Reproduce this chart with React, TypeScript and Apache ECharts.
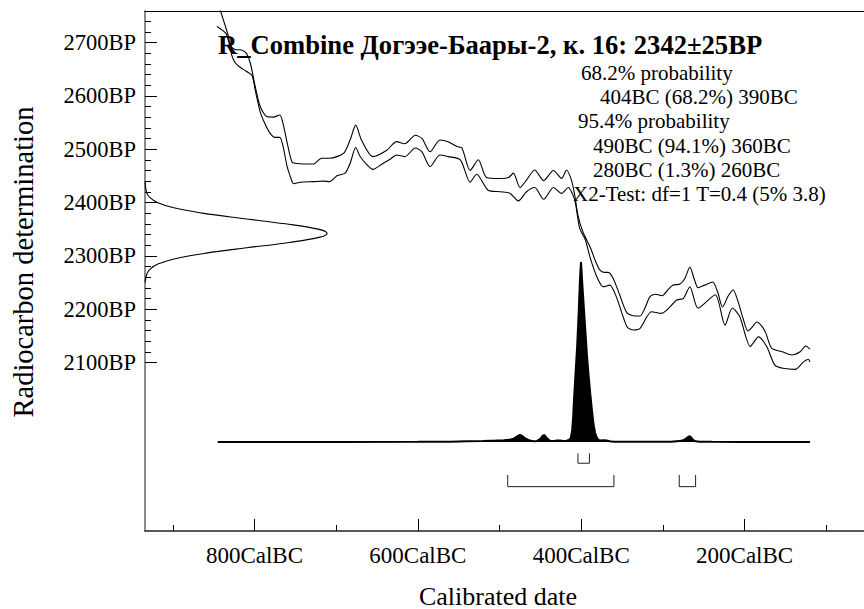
import React, { useEffect, useRef } from "react";
import * as echarts from "echarts";

// ---------- data ----------
const SAMPLE_NAME = "R_Combine Догээе-Баары-2, к. 16";
const BP_MEAN = 2342;
const BP_SD = 25;

const X_MIN_BC = 0;
const X_MAX_BC = 934;
const Y_MIN_BP = 1784;
const Y_MAX_BP = 2759;

const MAJOR_X_TICKS = [800, 600, 400, 200];
const MINOR_X_TICKS = [900, 700, 500, 300, 100];
const MAJOR_Y_TICKS = [2100, 2200, 2300, 2400, 2500, 2600, 2700];
const MINOR_Y_TICKS = [
  2120, 2140, 2160, 2180, 2220, 2240, 2260, 2280, 2320, 2340, 2360, 2380,
  2420, 2440, 2460, 2480, 2520, 2540, 2560, 2580, 2620, 2640, 2660, 2680,
  2720, 2740,
];

// calibration curve, upper and lower 1-sigma lines: [year BC, BP]
const CURVE_UPPER: [number, number][] = [
  [846, 2730], [835, 2717], [830, 2695], [824, 2687], [816, 2686], [810, 2680],
  [805, 2661], [799, 2617], [793, 2580], [785, 2561], [777, 2560], [769, 2564],
  [765, 2548], [759, 2505], [754, 2476], [748, 2473], [728, 2472], [718, 2483],
  [708, 2483], [691, 2492], [683, 2517], [676, 2545], [669, 2517], [655, 2486],
  [638, 2498], [626, 2514], [616, 2510], [603, 2526], [595, 2520], [585, 2495],
  [573, 2517], [563, 2514], [552, 2505], [546, 2502], [536, 2460], [526, 2480],
  [516, 2447], [499, 2445], [489, 2447], [483, 2455], [475, 2428], [467, 2442],
  [457, 2461], [446, 2441], [434, 2460], [424, 2445], [418, 2461], [412, 2442],
  [408, 2414], [404, 2376], [398, 2345], [389, 2316], [382, 2288], [377, 2273],
  [372, 2269], [367, 2269], [361, 2258], [353, 2227], [344, 2193], [334, 2187],
  [328, 2187], [322, 2202], [316, 2223], [309, 2228], [301, 2225], [294, 2236],
  [288, 2245], [279, 2247], [273, 2258], [267, 2279], [262, 2258], [257, 2240],
  [249, 2245], [239, 2251], [233, 2232], [227, 2204], [220, 2225], [214, 2236],
  [208, 2214], [202, 2183], [196, 2159], [191, 2166], [185, 2176], [179, 2168],
  [174, 2155], [167, 2127], [154, 2120], [142, 2114], [132, 2120], [125, 2131],
  [120, 2125],
];
const CURVE_LOWER: [number, number][] = [
  [846, 2780], [838, 2742], [832, 2712], [828, 2677], [824, 2663], [818, 2654],
  [810, 2646], [803, 2638], [799, 2610], [793, 2570], [787, 2547], [781, 2530],
  [775, 2522], [769, 2522], [765, 2505], [760, 2467], [756, 2448], [752, 2435],
  [744, 2438], [728, 2439], [716, 2440], [708, 2439], [699, 2450], [689, 2455],
  [683, 2473], [676, 2503], [671, 2487], [663, 2472], [655, 2462], [644, 2472],
  [634, 2481], [626, 2489], [616, 2486], [603, 2502], [595, 2495], [585, 2467],
  [573, 2489], [563, 2486], [548, 2480], [536, 2438], [528, 2453], [514, 2423],
  [499, 2420], [487, 2417], [477, 2403], [467, 2420], [457, 2428], [446, 2406],
  [434, 2428], [424, 2417], [416, 2428], [408, 2405], [402, 2352], [395, 2330],
  [389, 2296], [381, 2261], [373, 2242], [365, 2245], [357, 2223], [344, 2167],
  [336, 2161], [328, 2164], [314, 2195], [302, 2192], [283, 2217], [275, 2220],
  [267, 2242], [257, 2202], [236, 2227], [224, 2170], [215, 2202], [206, 2186],
  [193, 2130], [183, 2148], [173, 2130], [163, 2095], [153, 2089], [138, 2087],
  [128, 2101], [122, 2106], [120, 2101],
];

// radiocarbon measurement distribution (relative height) read along BP
const GAUSS_BP = [
  2440, 2420, 2410, 2400, 2390, 2380, 2370, 2360, 2350, 2342, 2335, 2325,
  2315, 2305, 2295, 2285, 2275, 2265, 2250,
];
const GAUSS_REL = [
  0.0005, 0.008, 0.025, 0.068, 0.158, 0.315, 0.534, 0.771, 0.95, 1.0, 0.961,
  0.793, 0.558, 0.335, 0.171, 0.074, 0.028, 0.009, 0.001,
];

// calibrated probability distribution (relative height) by year BC
const DIST_BC = [
  845, 700, 600, 560, 540, 520, 505, 495, 488, 482, 478, 475, 472, 468, 463,
  458, 454, 450, 447, 445, 442, 438, 434, 430, 426, 422, 418, 415, 413, 412,
  411, 410, 409, 407, 405, 403, 401.5, 400.3, 399, 397, 395, 393, 391, 389,
  387, 385, 383, 381, 379, 376, 372, 369, 365, 360, 350, 320, 290, 280, 274,
  271, 268, 266, 263, 260, 255, 240, 200, 160, 120,
];
const DIST_P = [
  0, 0, 0.001, 0.002, 0.004, 0.006, 0.008, 0.01, 0.012, 0.02, 0.033, 0.04,
  0.033, 0.018, 0.008, 0.004, 0.006, 0.018, 0.036, 0.038, 0.02, 0.006, 0.005,
  0.009, 0.008, 0.005, 0.007, 0.012, 0.02, 0.04, 0.07, 0.13, 0.22, 0.38, 0.53,
  0.73, 0.91, 1.0, 0.9, 0.76, 0.62, 0.48, 0.37, 0.27, 0.18, 0.1, 0.05, 0.025,
  0.012, 0.008, 0.01, 0.009, 0.004, 0.002, 0.001, 0.001, 0.002, 0.005, 0.012,
  0.022, 0.032, 0.028, 0.012, 0.004, 0.002, 0.001, 0, 0, 0,
];

// ranges: [from BC, to BC, percent]
const RANGES_68: [number, number, number][] = [[404, 390, 68.2]];
const RANGES_95: [number, number, number][] = [
  [490, 360, 94.1],
  [280, 260, 1.3],
];
const CHI_TEST = "X2-Test: df=1 T=0.4 (5% 3.8)";

// ---------- layout / style ----------
const CHART_W = 930;
const CHART_H = 609;
const GRID_LEFT = 145;
const GRID_TOP = 11;
const GRID_W = 763;
const GRID_H = 520;
const GAUSS_AXIS_MAX = 4.19;
const DIST_AXIS_MIN = -0.4944;
const DIST_AXIS_MAX = 2.3944;
const LEVEL_68 = [-0.0628, -0.118];
const LEVEL_95 = [-0.183, -0.248];
const FONT = "Liberation Serif";
const FONT_CSS = "'Liberation Serif', 'Times New Roman', serif";

function bracket(r: [number, number, number], lv: number[]) {
  return [
    [r[0], lv[0]],
    [r[0], lv[1]],
    [r[1], lv[1]],
    [r[1], lv[0]],
  ];
}

export default function App() {
  const ref = useRef<HTMLDivElement>(null);

  useEffect(() => {
    if (!ref.current) return;
    const chart = echarts.init(ref.current, undefined, { renderer: "svg" });

    const bracketSeries: any[] = [];
    RANGES_68.forEach((r) =>
      bracketSeries.push({
        type: "line",
        xAxisIndex: 0,
        yAxisIndex: 2,
        data: bracket(r, LEVEL_68),
        symbol: "none",
        lineStyle: { color: "#222", width: 1 },
        silent: true,
      })
    );
    RANGES_95.forEach((r) =>
      bracketSeries.push({
        type: "line",
        xAxisIndex: 0,
        yAxisIndex: 2,
        data: bracket(r, LEVEL_95),
        symbol: "none",
        lineStyle: { color: "#222", width: 1 },
        silent: true,
      })
    );

    const infoLines = [
      { text: "68.2% probability", x: 581 },
      ...RANGES_68.map((r) => ({
        text: `${r[0]}BC (${r[2]}%) ${r[1]}BC`,
        x: 600,
      })),
      { text: "95.4% probability", x: 578 },
      ...RANGES_95.map((r) => ({
        text: `${r[0]}BC (${r[2]}%) ${r[1]}BC`,
        x: 593,
      })),
      { text: CHI_TEST, x: 573 },
    ];

    const baseX = {
      type: "value",
      min: X_MIN_BC,
      max: X_MAX_BC,
      inverse: true,
      splitLine: { show: false },
    };

    const option: any = {
      animation: false,
      backgroundColor: "#fff",
      textStyle: { fontFamily: FONT },
      grid: {
        left: GRID_LEFT,
        top: GRID_TOP,
        width: GRID_W,
        height: GRID_H,
        containLabel: false,
      },
      xAxis: [
        {
          ...baseX,
          position: "bottom",
          axisLine: {
            show: true,
            onZero: false,
            lineStyle: { color: "#222", width: 1.5 },
          },
          axisTick: {
            show: true,
            inside: true,
            length: 12,
            customValues: MAJOR_X_TICKS,
            lineStyle: { color: "#000", width: 1 },
          },
          axisLabel: {
            show: true,
            customValues: MAJOR_X_TICKS,
            formatter: (v: number) => `${v}CalBC`,
            fontFamily: FONT,
            fontSize: 23,
            color: "#000",
            margin: 13,
          },
        },
        {
          ...baseX,
          position: "bottom",
          axisLine: { show: false, onZero: false },
          axisTick: {
            show: true,
            inside: true,
            length: 6,
            customValues: MINOR_X_TICKS,
            lineStyle: { color: "#000", width: 1 },
          },
          axisLabel: { show: false },
        },
        {
          ...baseX,
          position: "top",
          axisLine: {
            show: true,
            onZero: false,
            lineStyle: { color: "#000", width: 1 },
          },
          axisTick: { show: false },
          axisLabel: { show: false },
        },
        {
          type: "value",
          min: 0,
          max: GAUSS_AXIS_MAX,
          show: false,
        },
      ],
      yAxis: [
        {
          type: "value",
          min: Y_MIN_BP,
          max: Y_MAX_BP,
          position: "left",
          axisLine: {
            show: true,
            onZero: false,
            lineStyle: { color: "#666", width: 1.5 },
          },
          axisTick: {
            show: true,
            inside: true,
            length: 12,
            customValues: MAJOR_Y_TICKS,
            lineStyle: { color: "#000", width: 1 },
          },
          axisLabel: {
            show: true,
            customValues: MAJOR_Y_TICKS,
            formatter: (v: number) => `${v}BP`,
            fontFamily: FONT,
            fontSize: 22.5,
            color: "#000",
            margin: 9,
          },
          splitLine: { show: false },
        },
        {
          type: "value",
          min: Y_MIN_BP,
          max: Y_MAX_BP,
          position: "left",
          axisLine: { show: false, onZero: false },
          axisTick: {
            show: true,
            inside: true,
            length: 6,
            customValues: MINOR_Y_TICKS,
            lineStyle: { color: "#000", width: 1 },
          },
          axisLabel: { show: false },
          splitLine: { show: false },
        },
        {
          type: "value",
          min: DIST_AXIS_MIN,
          max: DIST_AXIS_MAX,
          show: false,
        },
      ],
      series: [
        {
          name: "curve upper",
          type: "line",
          xAxisIndex: 0,
          yAxisIndex: 0,
          data: CURVE_UPPER,
          symbol: "none",
          smooth: 0.25,
          lineStyle: { color: "#000", width: 1.1 },
          silent: true,
        },
        {
          name: "curve lower",
          type: "line",
          xAxisIndex: 0,
          yAxisIndex: 0,
          data: CURVE_LOWER,
          symbol: "none",
          smooth: 0.25,
          lineStyle: { color: "#000", width: 1.1 },
          silent: true,
        },
        {
          name: "radiocarbon",
          type: "line",
          xAxisIndex: 3,
          yAxisIndex: 0,
          data: GAUSS_BP.map((bp, i) => [GAUSS_REL[i], bp]),
          symbol: "none",
          smooth: 0.4,
          lineStyle: { color: "#000", width: 1.1 },
          silent: true,
        },
        {
          name: "calibrated",
          type: "line",
          xAxisIndex: 0,
          yAxisIndex: 2,
          data: DIST_BC.map((bc, i) => [bc, DIST_P[i]]),
          symbol: "none",
          lineStyle: { color: "#000", width: 2 },
          areaStyle: { color: "#000", opacity: 1, origin: "auto" },
          silent: true,
        },
        ...bracketSeries,
      ],
      graphic: [
        {
          type: "text",
          x: 218,
          y: 45,
          style: {
            text: `${SAMPLE_NAME}: ${BP_MEAN}±${BP_SD}BP`,
            font: `bold 26.6px ${FONT_CSS}`,
            fill: "#000",
            align: "left",
            verticalAlign: "middle",
          },
        },
        ...infoLines.map((l, i) => ({
          type: "text",
          x: l.x,
          y: 73 + i * 24.2,
          style: {
            text: l.text,
            font: `21px ${FONT_CSS}`,
            fill: "#000",
            align: "left",
            verticalAlign: "middle",
          },
        })),
        {
          type: "text",
          x: 498,
          y: 596,
          style: {
            text: "Calibrated date",
            font: `26px ${FONT_CSS}`,
            fill: "#000",
            align: "center",
            verticalAlign: "middle",
          },
        },
        {
          type: "text",
          x: 23,
          y: 262,
          rotation: Math.PI / 2,
          style: {
            text: "Radiocarbon determination",
            font: `28.5px ${FONT_CSS}`,
            fill: "#000",
            align: "center",
            verticalAlign: "middle",
          },
        },
      ],
    };

    chart.setOption(option);
    return () => chart.dispose();
  }, []);

  return (
    <div
      ref={ref}
      style={{
        position: "fixed",
        left: 0,
        top: 0,
        width: CHART_W,
        height: CHART_H,
        background: "#fff",
      }}
    />
  );
}
